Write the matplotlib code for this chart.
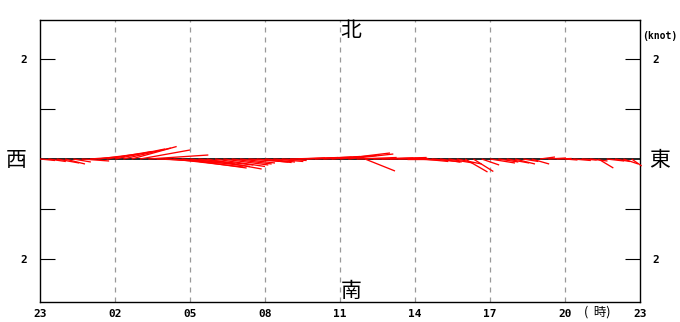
import numpy as np
import matplotlib
matplotlib.use("Agg")
import matplotlib.pyplot as plt

# hourly tick labels (23h to 23h next day)
hour_labels = ['23', '02', '05', '08', '11', '14', '17', '20', '23']
hour_ticks = [0, 3, 6, 9, 12, 15, 18, 21, 24]

# current sticks every 20 min: east (u) and north (v) components, knots
east = [0.30, 0.35, 0.45, 0.40, 0.35, 0.55, 0.70, 0.80, 0.90, 1.00,
        0.95, 0.90, 1.00, 1.20, 1.30, 1.40, 1.40, 1.30, 1.20, 1.10,
        1.10, 1.00, 0.90, 0.80, 0.70, 0.80, 0.70, 0.60, 0.60, 0.50,
        0.70, 0.80, 0.90, 0.90, 0.80, 0.90, 1.00, 0.90, 0.80, 0.60,
        0.80, 0.90, 0.70, 0.60, 0.60, 0.50, 0.50, 0.60, 0.40, 0.50,
        0.50, 0.45, 0.40, 0.35, 0.50, 0.40, 0.45, 0.40, 0.30, 0.35,
        0.30, 0.35, 0.30, 0.25, 0.35, 0.30, 0.35, 0.30, 0.35, 0.30,
        0.30, 0.20]
north = [-0.03, -0.05, -0.08, -0.10, -0.06, -0.04, 0.05, 0.10, 0.15, 0.20,
         0.22, 0.25, 0.18, 0.08, -0.05, -0.10, -0.16, -0.18, -0.15, -0.12,
         -0.20, -0.15, -0.12, -0.10, -0.08, -0.06, -0.07, -0.06, -0.05, -0.03,
         0.02, 0.03, 0.04, 0.05, 0.04, 0.07, 0.12, 0.10, 0.03, -0.24,
         0.02, 0.03, 0.02, 0.01, 0.00, -0.02, -0.05, -0.06, -0.06, -0.08,
         -0.10, -0.26, -0.25, -0.12, -0.08, -0.06, -0.08, -0.10, -0.05, -0.10,
         0.04, 0.02, 0.01, -0.02, -0.03, -0.02, -0.04, -0.18, -0.04, -0.05,
         -0.10, -0.14]

hours_per_knot = 2.0  # so that 1 knot has the same pixel length on both axes

fig = plt.figure(figsize=(6.8, 3.22), dpi=100)
ax = fig.add_axes([40/680, 20/322, 600/680, 282/322])

t = np.arange(len(east)) / 3.0
u = np.array(east)
v = np.array(north)

ax.axhline(0, color='black', lw=1.2, zorder=2)
for ti, ui, vi in zip(t, u, v):
    ax.plot([ti, ti + ui * hours_per_knot], [0, vi], color='#ff0000',
            lw=0.95, zorder=3, clip_on=False, solid_capstyle='butt')

for x in hour_ticks[1:-1]:
    ax.axvline(x, color='#999999', lw=0.9, ls=(0, (4, 4)), zorder=1)

ax.set_xlim(0, 24)
ax.set_ylim(-2.86, 2.78)
ax.set_xticks(hour_ticks)
ax.set_xticklabels(hour_labels, family='DejaVu Sans Mono', fontweight='bold', fontsize=8)
ax.tick_params(axis='x', length=0, pad=5)

ax.set_yticks([-2, -1, 1, 2])
ax.set_yticklabels(['2', '', '', '2'], family='DejaVu Sans Mono', fontweight='bold', fontsize=8)
ax.tick_params(axis='y', direction='in', length=11, width=0.8, pad=9,
               left=True, right=True, labelleft=True, labelright=True)
for s in ax.spines.values():
    s.set_linewidth(1.0)

cjk = ['Noto Sans CJK JP', 'DejaVu Sans']
fig.text(16/680, 1 - 160/322, '西', family=cjk, fontsize=15, ha='center', va='center')
fig.text(660/680, 1 - 160/322, '東', family=cjk, fontsize=15, ha='center', va='center')
fig.text(351/680, 1 - 31/322, '北', family=cjk, fontsize=15, ha='center', va='center')
fig.text(351/680, 1 - 291/322, '南', family=cjk, fontsize=15, ha='center', va='center')
fig.text(660/680, 1 - 36/322, '(knot)', family='DejaVu Sans Mono', fontweight='bold',
         fontsize=7, ha='center', va='center')
fig.text(597/680, 1 - 312/322, '(  時)', family=cjk, fontsize=9, ha='center', va='center')

fig.savefig('out.png', dpi=100)
